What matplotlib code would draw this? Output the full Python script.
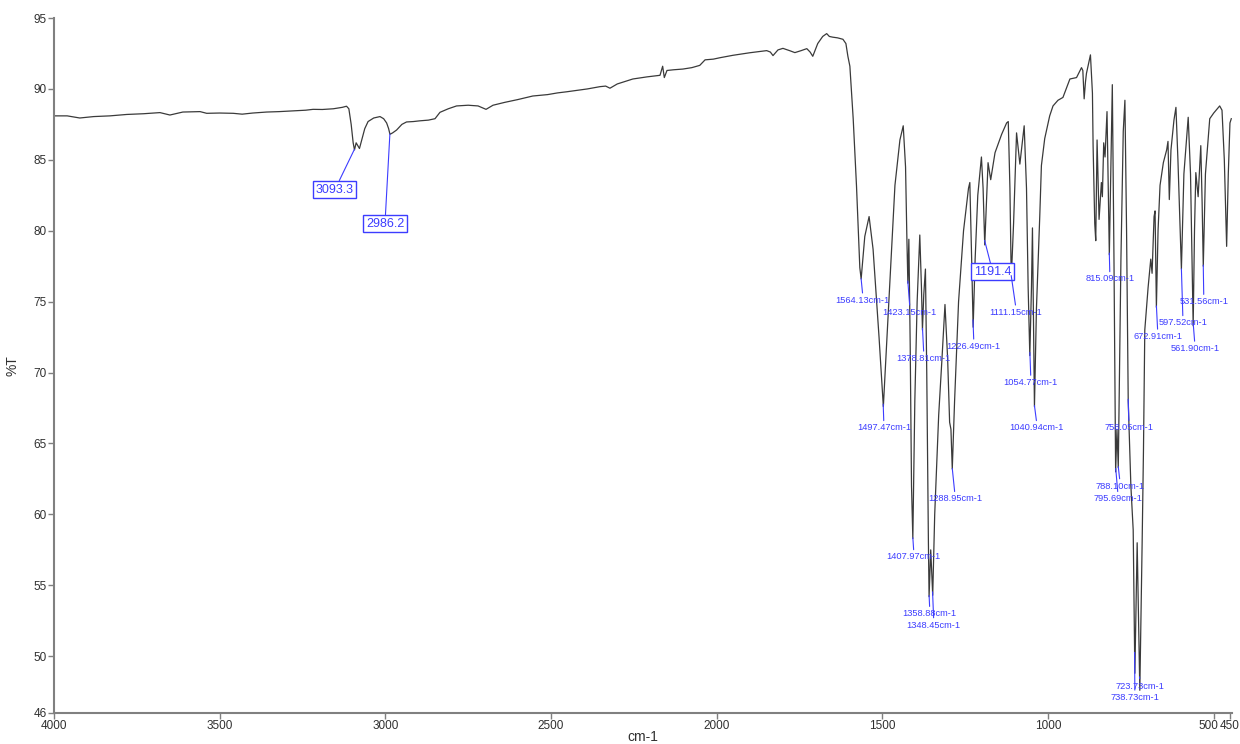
import numpy as np
import matplotlib
matplotlib.use("Agg")
import matplotlib.pyplot as plt
from matplotlib.transforms import ScaledTranslation

# IR spectrum: wavenumber (cm-1) and %T
wavenumber = [4000, 3960, 3922, 3880, 3831, 3780, 3730, 3680, 3650, 3611, 3559, 3539, 3500,
              3459, 3432, 3400, 3358, 3320, 3278, 3240, 3218, 3190, 3157, 3130, 3117, 3110,
              3103, 3097, 3093, 3088, 3083, 3078, 3070, 3062, 3052, 3035, 3016, 3005, 2996,
              2990, 2986, 2978, 2966, 2950, 2936, 2915, 2896, 2870, 2850, 2835, 2810, 2785,
              2750, 2720, 2696, 2675, 2640, 2600, 2555, 2510, 2480, 2452, 2420, 2390, 2352,
              2335, 2322, 2300, 2253, 2210, 2171, 2163, 2158, 2150, 2130, 2102, 2075, 2051,
              2035, 2010, 1990, 1951, 1900, 1849, 1838, 1830, 1815, 1800, 1780, 1764, 1745,
              1728, 1718, 1710, 1695, 1680, 1668, 1660, 1650, 1635, 1619, 1610, 1604, 1598,
              1588, 1578, 1568, 1564, 1553, 1540, 1528, 1510, 1497, 1485, 1472, 1462, 1447,
              1437, 1430, 1426, 1423, 1420, 1416, 1412, 1408, 1402, 1395, 1387, 1382, 1379,
              1375, 1370, 1366, 1361, 1359, 1354, 1348, 1342, 1330, 1320, 1311, 1303, 1297,
              1293, 1289, 1282, 1270, 1255, 1240, 1236, 1230, 1226, 1220, 1212, 1201, 1196,
              1191, 1186, 1181, 1173, 1160, 1140, 1125, 1120, 1115, 1111, 1104, 1095, 1085,
              1072, 1065, 1060, 1055, 1050, 1047, 1044, 1041, 1035, 1025, 1020, 1010, 995,
              985, 970, 955, 934, 914, 899, 895, 891, 887, 884, 872, 866, 864, 859, 856, 852,
              846, 839, 836, 832, 828, 822, 819, 815, 810, 806, 801, 796, 792, 788, 780, 773,
              768, 763, 758, 750, 743, 738, 731, 723, 716, 712, 708, 698, 690, 686, 680, 677,
              673, 668, 662, 652, 642, 638, 634, 629, 620, 614, 608, 597.5, 590, 577, 570,
              562, 558, 554, 547, 539, 535, 531.5, 525, 512, 500, 482, 475, 468, 461, 456,
              451, 447]
transmittance = [88.1, 88.1, 87.95, 88.05, 88.1, 88.2, 88.25, 88.33, 88.16, 88.37, 88.4, 88.28, 88.3,
                 88.28, 88.22, 88.3, 88.37, 88.4, 88.45, 88.5, 88.56, 88.55, 88.6, 88.7, 88.78, 88.6,
                 87.5, 86.2, 85.7, 86.2, 86.0, 85.8, 86.5, 87.2, 87.7, 87.95, 88.05, 87.9, 87.6,
                 87.2, 86.8, 86.9, 87.1, 87.5, 87.67, 87.7, 87.75, 87.8, 87.9, 88.35, 88.6, 88.8,
                 88.85, 88.8, 88.56, 88.85, 89.05, 89.25, 89.5, 89.6, 89.72, 89.8, 89.9, 90.0, 90.16,
                 90.2, 90.05, 90.35, 90.7, 90.85, 90.96, 91.6, 90.8, 91.3, 91.35, 91.4, 91.5, 91.66,
                 92.05, 92.1, 92.2, 92.37, 92.55, 92.7, 92.6, 92.35, 92.75, 92.86, 92.7, 92.56, 92.7,
                 92.84, 92.6, 92.3, 93.2, 93.7, 93.9, 93.7, 93.65, 93.6, 93.5, 93.2, 92.3, 91.6,
                 87.9, 83.15, 77.4, 76.6, 79.6, 81.0, 78.7, 72.5, 67.6, 73.0, 78.7, 83.2, 86.4,
                 87.4, 84.5, 79.5, 76.3, 79.4, 72.0, 62.0, 58.3, 68.0, 75.0, 79.7, 76.0, 73.0,
                 75.5, 77.3, 70.0, 58.0, 54.2, 57.5, 54.3, 60.0, 67.0, 71.0, 74.8, 71.0, 66.5,
                 66.0, 63.2, 68.0, 75.0, 80.0, 83.0, 83.4, 77.5, 73.2, 78.0, 82.5, 85.2, 83.0,
                 79.0, 82.0, 84.8, 83.6, 85.5, 86.8, 87.6, 87.7, 83.0, 76.6, 80.5, 86.9, 84.7,
                 87.4, 83.0, 76.0, 71.2, 76.0, 80.2, 74.0, 67.6, 74.5, 81.0, 84.6, 86.5, 88.1,
                 88.8, 89.2, 89.4, 90.7, 90.8, 91.5, 91.3, 89.3, 90.5, 91.1, 92.4, 89.7, 86.0, 80.5, 79.3, 86.4,
                 80.8, 83.4, 82.4, 86.2, 85.2, 88.4, 84.0, 78.3, 85.0, 90.3, 78.0, 63.0, 66.0, 63.3, 78.0, 87.0,
                 89.2, 80.0, 68.0, 62.0, 58.9, 48.8, 58.0, 47.6, 58.0, 64.5, 73.0, 76.0, 78.0, 77.0, 81.0, 81.4,
                 74.6, 80.0, 83.2, 84.8, 85.7, 86.3, 82.2, 85.7, 87.8, 88.7, 85.0, 77.3, 84.0, 88.0, 84.0,
                 73.3, 80.0, 84.1, 82.4, 86.0, 82.0, 77.5, 84.0, 87.9, 88.3, 88.8, 88.5, 85.0, 78.9, 84.0,
                 87.6, 87.9]

# boxed peak picks
boxed_peaks = [3093.3, 2986.2, 1191.4]
boxed_text_pos = [(3152, 82.9), (3001, 80.5), (1167, 77.1)]

# small peak labels
small_peaks = [1564.13, 1497.47, 1423.15, 1407.97, 1378.81, 1358.88, 1348.45, 1288.95,
               1226.49, 1111.15, 1054.77, 1040.94, 815.09, 795.69, 788.10, 758.05,
               738.73, 723.73, 672.91, 597.52, 561.90, 531.56]
small_text_pos = [(1559, 75.1), (1495.5, 66.1), (1417, 74.25), (1405, 57.0), (1375, 71.0),
                  (1357, 53.0), (1345, 52.2), (1281, 61.1), (1224, 71.85), (1097, 74.25),
                  (1052, 69.3), (1034, 66.1), (813.5, 76.6), (789, 61.1), (783, 62.0),
                  (756, 66.1), (738, 47.1), (723, 47.9), (669, 72.55), (593, 73.5),
                  (557, 71.7), (530, 75.0)]

xticks = [4000, 3500, 3000, 2500, 2000, 1500, 1000, 500, 450]
yticks = [46, 50, 55, 60, 65, 70, 75, 80, 85, 90, 95]

plt.rcParams['font.family'] = ['Liberation Sans Narrow', 'Liberation Sans', 'DejaVu Sans']
blue = '#3c3cff'

fig = plt.figure(figsize=(12.4, 7.44), dpi=100)
ax = fig.add_axes([0.0435, 0.0417, 0.95, 0.9341])

ax.plot(wavenumber, transmittance, color='#3a3a3a', lw=0.9)

# anchors taken from the curve itself
wn_up = np.array(wavenumber[::-1], dtype=float)
t_up = np.array(transmittance[::-1], dtype=float)

for p, pos in zip(boxed_peaks, boxed_text_pos):
    ax.annotate(f"{p:.1f}", xy=(p, np.interp(p, wn_up, t_up)), xytext=pos,
                ha='center', va='center', fontsize=9, color=blue,
                bbox=dict(boxstyle='square,pad=0.2', fc='white', ec=blue, lw=1),
                arrowprops=dict(arrowstyle='-', color=blue, lw=0.8, shrinkA=0, shrinkB=0))

for p, pos in zip(small_peaks, small_text_pos):
    ax.annotate(f"{p:.2f}cm-1", xy=(p, np.interp(p, wn_up, t_up)), xytext=pos,
                ha='center', va='center', fontsize=6.7, color=blue,
                arrowprops=dict(arrowstyle='-', color=blue, lw=0.8, shrinkA=0, shrinkB=0,
                                relpos=(0.5, 1.0)))

ax.set_xlim(4000, 445)
ax.set_ylim(46, 95)
ax.set_xticks(xticks)
ax.set_yticks(yticks)
ax.tick_params(axis='both', labelsize=8.5, colors='#7f7f7f', labelcolor='#303030',
               length=4, width=1, pad=1)

# "500" and "450" sit close together: nudge them apart
for lbl in ax.get_xticklabels():
    if lbl.get_text() == '500':
        lbl.set_transform(lbl.get_transform() + ScaledTranslation(-5 / 100, 0, fig.dpi_scale_trans))
    elif lbl.get_text() == '450':
        lbl.set_transform(lbl.get_transform() + ScaledTranslation(-1 / 100, 0, fig.dpi_scale_trans))

for s in ['top', 'right']:
    ax.spines[s].set_visible(False)
for s in ['left', 'bottom']:
    ax.spines[s].set_color('#808080')
    ax.spines[s].set_linewidth(1.5)

ax.set_xlabel("cm-1", fontsize=10, color='#303030')
ax.xaxis.set_label_coords(0.5, -0.024)
ax.set_ylabel("%T", fontsize=10, color='#303030')
ax.yaxis.set_label_coords(-0.029, 0.5)

fig.savefig("out.png", dpi=100)
